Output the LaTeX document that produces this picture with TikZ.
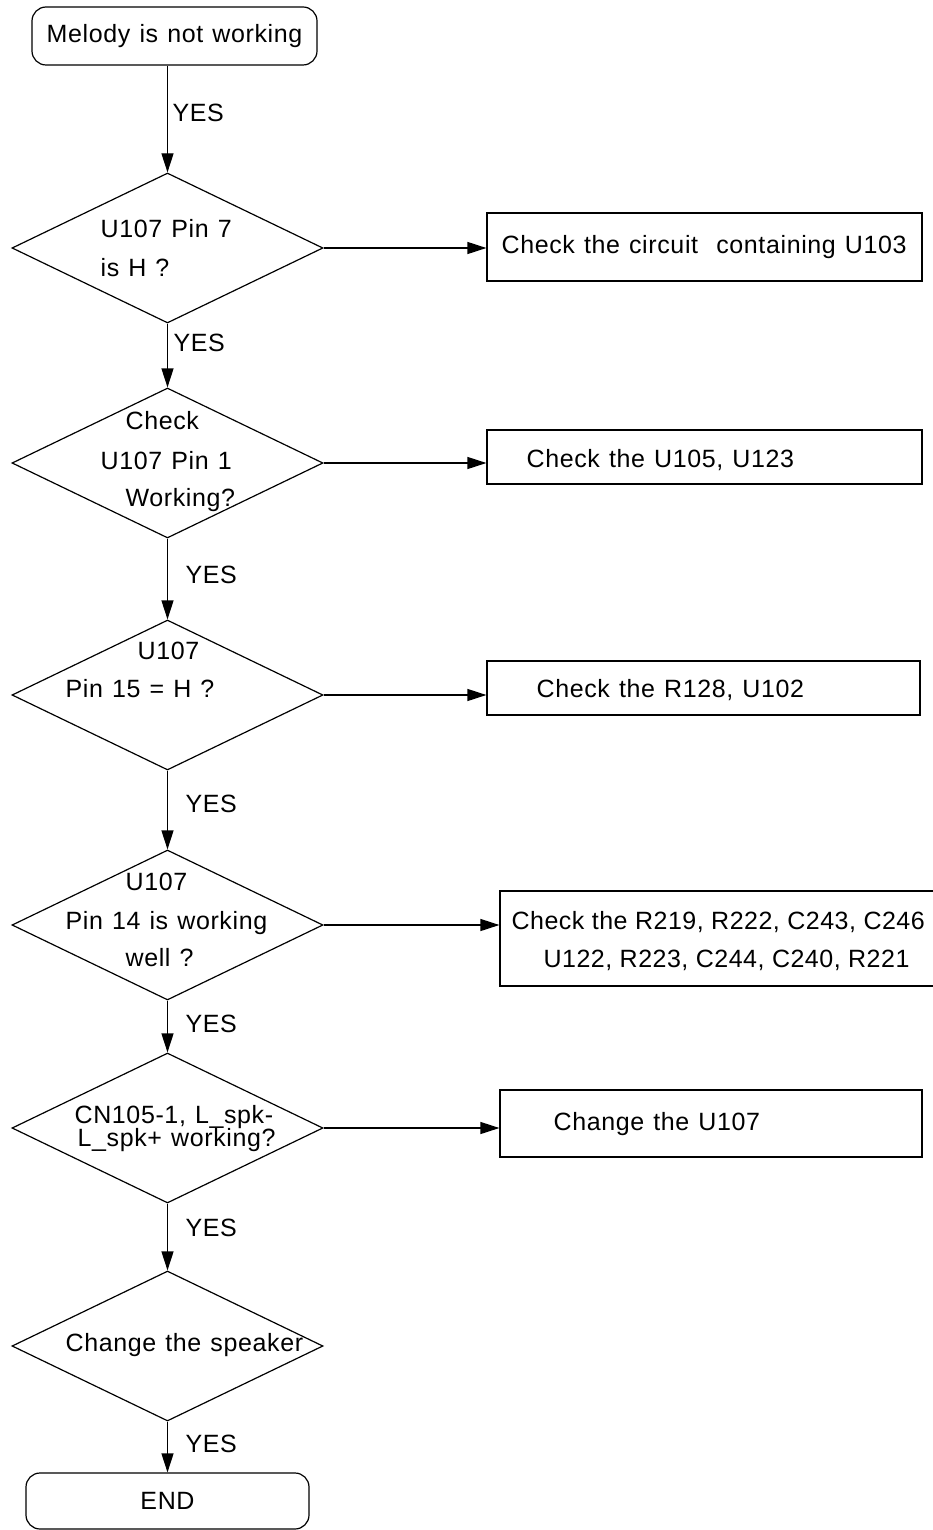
\documentclass[tikz,border=0pt]{standalone}
\usepackage{fontspec}
\setmainfont{Liberation Sans}[LetterSpace=2.5,WordSpace=1.2]
\newfontfamily\tightfont{Liberation Sans}[LetterSpace=2,WordSpace=1]
\usetikzlibrary{shapes.geometric,arrows.meta}

\begin{document}
\begin{tikzpicture}[x=0.5pt,y=-0.5pt,line width=0.6pt,
  font=\fontsize{12.5}{15}\selectfont,
  test/.style={draw,diamond,inner sep=0pt,minimum width=155.5pt,minimum height=75pt},
  act/.style={draw,rectangle,inner sep=0pt},
  term/.style={draw,rectangle,rounded corners=7pt,inner sep=0pt},
  lbl/.style={anchor=base west,inner sep=0pt},
  tight/.style={font=\tightfont\fontsize{12.5}{15}\selectfont},
  flow/.style={-{Triangle[length=9.5pt,width=6pt]}}]
\useasboundingbox (0,0) rectangle (932,1530);
% start and end
\node[term,minimum width=142.5pt,minimum height=29pt] (start) at (174.5,36) {Melody is not working};
\node[term,minimum width=141.5pt,minimum height=28pt] (finish) at (167.5,1501) {END};
% questions
\node[test] (q1) at (167.5,248) {};
\node[test] (q2) at (167.5,463) {};
\node[test] (q3) at (167.5,695) {};
\node[test] (q4) at (167.5,925) {};
\node[test] (q5) at (167.5,1128) {};
\node[test] (q6) at (167.5,1346) {};
\node[lbl] (q1a) at (100,237) {U107 Pin 7};
\node[lbl] (q1b) at (100,277) {is H ?};
\node[lbl] (q2a) at (125,429) {Check};
\node[lbl] (q2b) at (100,469) {U107 Pin 1};
\node[lbl] (q2c) at (125,506) {Working?};
\node[lbl] (q3a) at (137,659) {U107};
\node[lbl] (q3b) at (65,697) {Pin 15 = H ?};
\node[lbl] (q4a) at (125,890) {U107};
\node[lbl] (q4b) at (65,929) {Pin 14 is working};
\node[lbl] (q4c) at (125,966) {well ?};
\node[lbl] (q5a) at (74,1123) {CN105-1, L\_spk-};
\node[lbl] (q5b) at (77,1146) {L\_spk+ working?};
\node[lbl] (q6a) at (65,1351) {Change the speaker};
% actions
\node[act,minimum width=217.5pt,minimum height=34pt] (fix1) at (704.5,247) {};
\node[act,minimum width=217.5pt,minimum height=27pt] (fix2) at (704.5,457) {};
\node[act,minimum width=216.5pt,minimum height=27pt] (fix3) at (703.5,688) {};
\node[act,minimum width=218pt,minimum height=47.5pt] (fix4) at (718,938.5) {};
\node[act,minimum width=211pt,minimum height=33.5pt] (fix5) at (711,1123.5) {};
\node[lbl] (fix1a) at (501,254) {Check the circuit\ \ containing U103};
\node[lbl] (fix2a) at (526,467) {Check the U105, U123};
\node[lbl] (fix3a) at (536,697) {Check the R128, U102};
\node[lbl,tight] (fix4a) at (511,929) {Check the R219, R222, C243, C246};
\node[lbl,tight] (fix4b) at (543,967) {U122, R223, C244, C240, R221};
\node[lbl] (fix5a) at (553,1130) {Change the U107};
% connectors
\draw[flow] (start.south -| q1.north) -- (q1.north);
\draw[flow] (q1.south) -- (q2.north);
\draw[flow] (q2.south) -- (q3.north);
\draw[flow] (q3.south) -- (q4.north);
\draw[flow] (q4.south) -- (q5.north);
\draw[flow] (q5.south) -- (q6.north);
\draw[flow] (q6.south) -- (q6.south |- finish.north);
\draw[flow] (q1.east) -- (q1.east -| fix1.west);
\draw[flow] (q2.east) -- (q2.east -| fix2.west);
\draw[flow] (q3.east) -- (q3.east -| fix3.west);
\draw[flow] (q4.east) -- (q4.east -| fix4.west);
\draw[flow] (q5.east) -- (q5.east -| fix5.west);
\node[lbl] (yes0) at (172,122) {YES};
\node[lbl] (yes1) at (173,351) {YES};
\node[lbl] (yes2) at (185,583) {YES};
\node[lbl] (yes3) at (185,812) {YES};
\node[lbl] (yes4) at (185,1032) {YES};
\node[lbl] (yes5) at (185,1236) {YES};
\node[lbl] (yes6) at (185,1452) {YES};
\end{tikzpicture}
\end{document}
